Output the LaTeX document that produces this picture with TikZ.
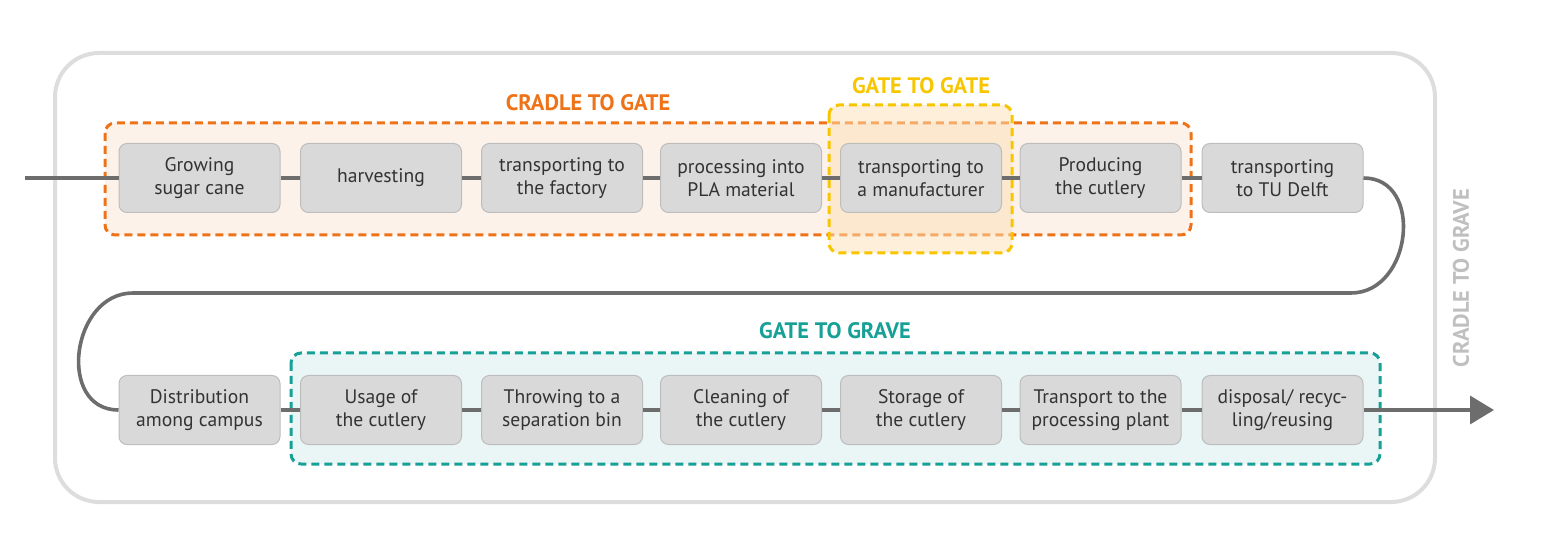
\documentclass[tikz,border=0pt]{standalone}
\usepackage{fontspec}
\setmainfont{PT Sans}
\usetikzlibrary{arrows.meta,positioning}
\definecolor{stepgray}{HTML}{D9D9D9}
\definecolor{stepedge}{HTML}{BDBDBD}
\definecolor{flowgray}{HTML}{6D6D6D}
\definecolor{framegray}{HTML}{DDDDDD}
\definecolor{ctgorange}{HTML}{EE7318}
\definecolor{gtgyellow}{HTML}{F7C600}
\definecolor{gtgfill}{HTML}{FCE0B4}
\definecolor{gravteal}{HTML}{16A096}
\definecolor{textgray}{HTML}{333333}

\begin{document}
\begin{tikzpicture}[
        x=0.5pt, y=-0.5pt,
        % styles for the steps and the flow
        stepbox/.style={rectangle, draw=stepedge, line width=0.5pt, fill=stepgray, rounded corners=4pt, text centered, align=center, minimum width=80.5pt, minimum height=34.5pt, inner sep=1pt, text=textgray, font=\fontsize{9.8}{11.5}\selectfont},
        flow/.style={draw=flowgray, line width=1.8pt},
        region/.style={dashed, dash pattern=on 4pt off 2.5pt, line width=1.5pt, rounded corners=5pt},
        regionlabel/.style={font=\fontsize{11.2}{13}\selectfont\bfseries}
    ]

        \useasboundingbox (0,0) rectangle (1554,534);

        % Outer frame and phases
        \draw[framegray, line width=2pt, rounded corners=22pt] (55,53) rectangle (1435,502);
        \draw[region, draw=ctgorange, fill=ctgorange!9] (105,123) rectangle (1191,235);
        \draw[region, draw=gtgyellow, fill=gtgfill, fill opacity=0.5] (829,105) rectangle (1012,253);
        \draw[region, draw=gravteal, fill=gravteal!9] (291,353) rectangle (1380,464);

        \node[regionlabel, text=ctgorange] (ctglabel) at (588,103) {CRADLE TO GATE};
        \node[regionlabel, text=gtgyellow] (gtglabel) at (921,86) {GATE TO GATE};
        \node[regionlabel, text=gravteal] (gravlabel) at (835,331) {GATE TO GRAVE};
        \node[regionlabel, text=black!25, rotate=90] (c2glabel) at (1461,278) {CRADLE TO GRAVE};

        % Top row
        \node[stepbox] (t1) at (199.5,178) {Growing\\sugar cane};
        \node[stepbox] (t2) at (381,178) {harvesting};
        \node[stepbox] (t3) at (562,178) {transporting to\\the factory};
        \node[stepbox] (t4) at (741,178) {processing into\\PLA material};
        \node[stepbox] (t5) at (921,178) {transporting to\\a manufacturer};
        \node[stepbox] (t6) at (1100.5,178) {Producing\\the cutlery};
        \node[stepbox] (t7) at (1282.5,178) {transporting\\to TU Delft};

        % Bottom row
        \node[stepbox] (b1) at (199.5,410) {Distribution\\among campus};
        \node[stepbox] (b2) at (381,410) {Usage of\\the cutlery};
        \node[stepbox] (b3) at (562,410) {Throwing to a\\separation bin};
        \node[stepbox] (b4) at (741,410) {Cleaning of\\the cutlery};
        \node[stepbox] (b5) at (921,410) {Storage of\\the cutlery};
        \node[stepbox] (b6) at (1100.5,410) {Transport to the\\processing plant};
        \node[stepbox] (b7) at (1282.5,410) {disposal/ recyc-\\ling/reusing};

        \coordinate (start) at (25,178);
        \coordinate (turnR) at (1351,293);
        \coordinate (turnL) at (133,293);
        \coordinate (finish) at (1494,410);

        % Flow
        \draw[flow] (start) -- (t1);
        \draw[flow] (t1) -- (t2);
        \draw[flow] (t2) -- (t3);
        \draw[flow] (t3) -- (t4);
        \draw[flow] (t4) -- (t5);
        \draw[flow] (t5) -- (t6);
        \draw[flow] (t6) -- (t7);
        \draw[flow] (t7.east) to[out=0, in=0, looseness=1.35] (turnR) -- (turnL)
            to[out=180, in=180, looseness=1.35] (b1.west);
        \draw[flow] (b1) -- (b2);
        \draw[flow] (b2) -- (b3);
        \draw[flow] (b3) -- (b4);
        \draw[flow] (b4) -- (b5);
        \draw[flow] (b5) -- (b6);
        \draw[flow] (b6) -- (b7);
        \draw[flow, -{Triangle[length=12pt, width=14pt]}] (b7) -- (finish);

    \end{tikzpicture}
\end{document}
